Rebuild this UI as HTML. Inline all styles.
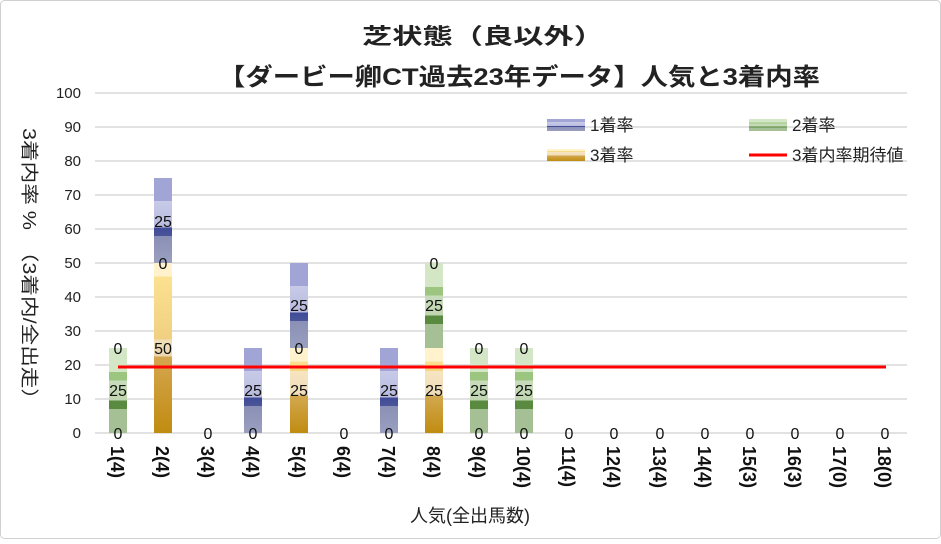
<!DOCTYPE html><html><head><meta charset="utf-8"><style>
body{margin:0;width:941px;height:539px;background:#fff;font-family:"Liberation Sans","Noto Sans CJK JP",sans-serif;overflow:hidden}
</style></head><body>
<svg width="941" height="539" xmlns="http://www.w3.org/2000/svg" font-family="Liberation Sans, Noto Sans CJK JP, sans-serif">
<defs>
<linearGradient id="b" x1="0" y1="0" x2="0" y2="1">
<stop offset="0" stop-color="#a0a5d5"/><stop offset=".27" stop-color="#a0a5d5"/><stop offset=".27" stop-color="#c8cae8"/><stop offset=".58" stop-color="#b8bbdd"/><stop offset=".58" stop-color="#3f4a98"/><stop offset=".68" stop-color="#4a5598"/><stop offset=".68" stop-color="#8a8fb5"/><stop offset="1" stop-color="#9aa0c0"/></linearGradient>
<linearGradient id="g" x1="0" y1="0" x2="0" y2="1">
<stop offset="0" stop-color="#d3e6c6"/><stop offset=".28" stop-color="#d3e6c6"/><stop offset=".28" stop-color="#9cc67f"/><stop offset=".38" stop-color="#9cc67f"/><stop offset=".38" stop-color="#c8dcbc"/><stop offset=".62" stop-color="#c0d6b0"/><stop offset=".62" stop-color="#5a8a3f"/><stop offset=".72" stop-color="#5a8a3f"/><stop offset=".72" stop-color="#a6c096"/><stop offset="1" stop-color="#a6c096"/></linearGradient>
<linearGradient id="y" x1="0" y1="0" x2="0" y2="1">
<stop offset="0" stop-color="#fff2cc"/><stop offset=".16" stop-color="#fff2cc"/><stop offset=".16" stop-color="#fbe190"/><stop offset=".27" stop-color="#f5d580"/><stop offset=".27" stop-color="#f7e4c0"/><stop offset=".56" stop-color="#efdcb8"/><stop offset=".56" stop-color="#d3a850"/><stop offset="1" stop-color="#c08c10"/></linearGradient>
<linearGradient id="y2" x1="0" y1="0" x2="0" y2="1">
<stop offset="0" stop-color="#fff2cc"/><stop offset=".08" stop-color="#fff2cc"/><stop offset=".08" stop-color="#fbe190"/><stop offset=".45" stop-color="#f0d080"/><stop offset=".45" stop-color="#f0dfb8"/><stop offset=".55" stop-color="#ecd8b0"/><stop offset=".55" stop-color="#d5a650"/><stop offset="1" stop-color="#c08c10"/></linearGradient>
</defs>
<rect x="0.5" y="0.5" width="940" height="538" rx="4" fill="#fff" stroke="#d0d0d0"/>
<text x="362" y="44" font-size="22" font-weight="bold" fill="#222" textLength="242" lengthAdjust="spacingAndGlyphs">芝状態（良以外）</text>
<text x="218" y="85" font-size="24" font-weight="bold" fill="#222" textLength="602" lengthAdjust="spacingAndGlyphs">【ダービー卿CT過去23年データ】人気と3着内率</text>
<g stroke="#d9d9d9" stroke-width="1.5">
<line x1="95" x2="907" y1="93" y2="93"/><line x1="95" x2="907" y1="127" y2="127"/><line x1="95" x2="907" y1="161" y2="161"/><line x1="95" x2="907" y1="195" y2="195"/><line x1="95" x2="907" y1="229" y2="229"/><line x1="95" x2="907" y1="263" y2="263"/><line x1="95" x2="907" y1="297" y2="297"/><line x1="95" x2="907" y1="331" y2="331"/><line x1="95" x2="907" y1="365" y2="365"/><line x1="95" x2="907" y1="399" y2="399"/><line x1="95" x2="907" y1="433" y2="433"/></g>
<g font-size="15" text-anchor="end" fill="#222">
<text x="81" y="98">100</text><text x="81" y="132">90</text><text x="81" y="166">80</text><text x="81" y="200">70</text><text x="81" y="234">60</text><text x="81" y="268">50</text><text x="81" y="302">40</text><text x="81" y="336">30</text><text x="81" y="370">20</text><text x="81" y="404">10</text><text x="81" y="438">0</text></g>
<rect x="109" y="348" width="18" height="85" fill="url(#g)"/>
<rect x="154" y="263" width="18" height="170" fill="url(#y2)"/>
<rect x="154" y="178" width="18" height="85" fill="url(#b)"/>
<rect x="244" y="348" width="18" height="85" fill="url(#b)"/>
<rect x="290" y="348" width="18" height="85" fill="url(#y)"/>
<rect x="290" y="263" width="18" height="85" fill="url(#b)"/>
<rect x="380" y="348" width="18" height="85" fill="url(#b)"/>
<rect x="425" y="348" width="18" height="85" fill="url(#y)"/>
<rect x="425" y="263" width="18" height="85" fill="url(#g)"/>
<rect x="470" y="348" width="18" height="85" fill="url(#g)"/>
<rect x="515" y="348" width="18" height="85" fill="url(#g)"/>
<line x1="118" x2="886" y1="367" y2="367" stroke="#ff0000" stroke-width="3"/>
<g font-size="16" text-anchor="middle" fill="#111">
<text x="118" y="439">0</text><text x="118" y="396">25</text><text x="118" y="354">0</text>
<text x="163" y="354">50</text><text x="163" y="269">0</text><text x="163" y="227">25</text>
<text x="208" y="439">0</text>
<text x="253" y="439">0</text><text x="253" y="396">25</text>
<text x="299" y="396">25</text><text x="299" y="354">0</text><text x="299" y="311">25</text>
<text x="344" y="439">0</text>
<text x="389" y="439">0</text><text x="389" y="396">25</text>
<text x="434" y="396">25</text><text x="434" y="311">25</text><text x="434" y="269">0</text>
<text x="479" y="439">0</text><text x="479" y="396">25</text><text x="479" y="354">0</text>
<text x="524" y="439">0</text><text x="524" y="396">25</text><text x="524" y="354">0</text>
<text x="569" y="439">0</text><text x="614" y="439">0</text><text x="660" y="439">0</text><text x="705" y="439">0</text><text x="750" y="439">0</text><text x="795" y="439">0</text><text x="840" y="439">0</text><text x="885" y="439">0</text></g>
<g font-size="18" font-weight="bold" fill="#111">
<text transform="translate(111,446) rotate(90)">1(4)</text>
<text transform="translate(156,446) rotate(90)">2(4)</text>
<text transform="translate(201,446) rotate(90)">3(4)</text>
<text transform="translate(246,446) rotate(90)">4(4)</text>
<text transform="translate(292,446) rotate(90)">5(4)</text>
<text transform="translate(337,446) rotate(90)">6(4)</text>
<text transform="translate(382,446) rotate(90)">7(4)</text>
<text transform="translate(427,446) rotate(90)">8(4)</text>
<text transform="translate(472,446) rotate(90)">9(4)</text>
<text transform="translate(517,446) rotate(90)">10(4)</text>
<text transform="translate(562,446) rotate(90)">11(4)</text>
<text transform="translate(607,446) rotate(90)">12(4)</text>
<text transform="translate(653,446) rotate(90)">13(4)</text>
<text transform="translate(698,446) rotate(90)">14(4)</text>
<text transform="translate(743,446) rotate(90)">15(3)</text>
<text transform="translate(788,446) rotate(90)">16(3)</text>
<text transform="translate(833,446) rotate(90)">17(0)</text>
<text transform="translate(878,446) rotate(90)">18(0)</text></g>
<text x="470" y="522" font-size="18" text-anchor="middle" fill="#222">人気(全出馬数)</text>
<text transform="translate(23,128) rotate(90)" font-size="18" fill="#222" textLength="282" lengthAdjust="spacingAndGlyphs">3着内率 %　（3着内/全出走）</text>
<g font-size="17" fill="#222">
<rect x="547" y="119" width="38" height="12" fill="url(#b)"/><text x="590" y="131">1着率</text>
<rect x="749" y="119" width="38" height="12" fill="url(#g)"/><text x="792" y="131">2着率</text>
<rect x="547" y="149" width="38" height="12" fill="url(#y)"/><text x="590" y="161">3着率</text>
<line x1="749" x2="787" y1="155" y2="155" stroke="#ff0000" stroke-width="3"/><text x="792" y="161">3着内率期待値</text></g>
</svg></body></html>
